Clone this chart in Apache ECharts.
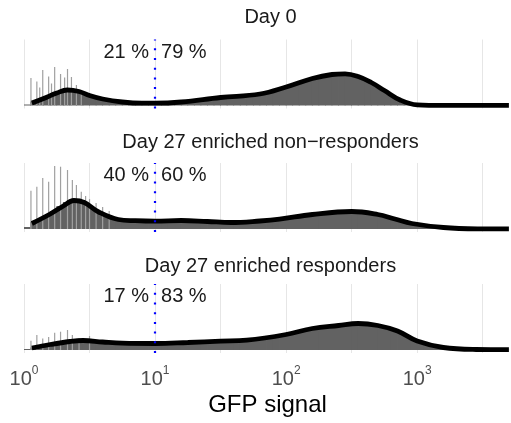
<!DOCTYPE html>
<html><head><meta charset="utf-8">
<script src="https://cdn.jsdelivr.net/npm/echarts@6/dist/echarts.min.js"></script>
<style>html,body{margin:0;padding:0;background:#fff}#c{width:511px;height:423px}</style>
</head><body><div id="c"></div>
<script>
// ---------------- data ----------------
const panelTitles = ['Day 0', 'Day 27 enriched non\u2212responders', 'Day 27 enriched responders'];
const pctBelow = ['21 %', '40 %', '17 %'];
const pctAbove = ['79 %', '60 %', '83 %'];
const threshold = 1;            // log10(10) : GFP signal = 10
const tickExponents = [0, 1, 2, 3];
const xTitle = 'GFP signal';

// density curves: [log10(GFP), density (arb. units)]
const densityDay0 = [[0.06,2.5],[0.15,7],[0.25,12.5],[0.33,15.5],[0.42,14],[0.5,10],[0.6,6.5],[0.75,3.5],[0.9,2.3],[1.0,2.3],[1.2,3.5],[1.5,8],[1.8,11.5],[2.0,18.5],[2.2,27],[2.35,31],[2.45,31.7],[2.55,29],[2.65,23],[2.75,15],[2.87,5.5],[3.0,0.6],[3.2,0.1],[3.7,0.1]];
const densityNonResp = [[0.06,5.5],[0.2,15],[0.3,23],[0.38,28.5],[0.46,26.5],[0.57,17],[0.72,9.5],[0.85,8.3],[1.0,7.8],[1.2,8.5],[1.4,7.5],[1.58,6.5],[1.8,8],[1.95,9.8],[2.2,14.5],[2.5,17.5],[2.7,14.5],[2.83,10],[2.96,5.5],[3.2,1.5],[3.46,0.2],[3.7,0.1]];
const densityResp = [[0.06,2],[0.2,5.5],[0.35,8.5],[0.45,9.5],[0.6,8],[0.75,6.8],[1.0,6.5],[1.25,7.5],[1.5,8.8],[1.7,9.8],[2.0,15.5],[2.2,21.5],[2.4,24.5],[2.55,26.5],[2.7,24.5],[2.85,19],[3.0,9],[3.2,2.5],[3.45,0.5],[3.7,0.3]];

// histogram counts (arb. units), bins of 0.05 log10 units starting at log10 = 0
const histStart = 0, histBin = 0.05;
const histDay0 = [1,4,6,9,11,14,15,15,13.5,11,9,7,5.5,4.5,3.5,3,2.5,2.3,2.2,2.2,2.3,2.6,3,3.4,4,4.6,5.3,6,6.8,7.5,8,8.8,9.5,10,10.5,11,12,13.5,15.5,17.5,19.5,21.5,23.5,26,27.5,29,30.5,31.3,31.7,31.5,30,27.5,24.5,21,16.5,12.5,8.5,5,2.5,1,0.4,0.2,0,0,0,0,0,0,0,0,0,0,0,0];
const histNonResp = [2,7,10,14,18,23,27,30,29,25,21,17,14,11.5,10,9,8.5,8.3,8,8,8,8.3,8.6,8.8,8.5,8.2,7.8,7.5,7.2,7,6.8,6.7,6.8,7.2,7.6,8,8.6,9.2,9.8,10.5,11.2,12,13,14,15,15.8,16.5,17,17.5,17.8,17.5,17,16,15,13.5,12,10.2,8.5,6.8,5,3.8,2.8,2,1.5,1.1,0.8,0.5,0.3,0.2,0,0,0,0,0];
const histResp = [1,2.5,4,5,6.5,7.5,8.5,9.5,9.5,9.3,8.8,8.2,7.8,7.3,7,6.8,6.6,6.5,6.5,6.5,6.5,6.7,6.9,7.1,7.4,7.7,8,8.3,8.6,8.8,9,9.3,9.5,9.8,10.3,11.2,12.2,13.3,14.3,15.3,16.3,17.8,19.3,20.8,22,23,23.8,24.3,24.8,25.5,26.2,26.5,26,25.2,24,22.3,20,17.5,14.5,11,7.8,5.5,3.8,2.8,2,1.4,1,0.7,0.5,0.3,0.2,0.2,0.2,0.2];

// tall single-value spikes at low signal: [log10(GFP), count]
const spikesDay0 = [[0.053,27.5],[0.098,24],[0.12,18],[0.143,35.5],[0.188,29],[0.21,22],[0.234,38.5],[0.279,31.5],[0.31,28],[0.332,36.5],[0.362,28.5],[0.40,20.5],[0.437,15.5]];
const spikesNonResp = [[0.053,38.3],[0.098,42.3],[0.143,51],[0.188,47.3],[0.234,63],[0.279,62.3],[0.332,59],[0.369,49],[0.40,44],[0.437,37.3],[0.47,33],[0.5,30],[0.55,26],[0.6,22],[0.65,18]];
const spikesResp = [[0.053,9.3],[0.098,15],[0.143,11.5],[0.188,13],[0.234,17.3],[0.279,18.3],[0.332,20],[0.369,15],[0.42,12],[0.5,14]];

const densities = [densityDay0, densityNonResp, densityResp];
const hists = [histDay0, histNonResp, histResp];
const spikes = [spikesDay0, spikesNonResp, spikesResp];

// ---------------- layout / style ----------------
const FONT = '"Liberation Sans", Arial, Helvetica, sans-serif';
const gridTops = [39.5, 163, 284];
const GRID_H = 69;
const GRID_LEFT = 24, GRID_W = 493;
const X_MAX = 3.716;
const Y_MIN = -3, Y_MAX = 66;
const titleCenters = [18, 143, 267];
const TEXT = '#1a1a1a';

const chart = echarts.init(document.getElementById('c'), null, {renderer: 'canvas'});

function histItem(params, api) {
  const p0 = api.coord([api.value(0), 0]);
  const p1 = api.coord([api.value(1), api.value(2)]);
  return {type: 'rect', shape: {x: p0[0] - 0.4, y: p1[1], width: p1[0] - p0[0] + 0.8, height: p0[1] - p1[1]},
          style: {fill: '#626262'}};
}
function spikeItem(params, api) {
  const p0 = api.coord([api.value(0), 0]);
  const p1 = api.coord([api.value(0), api.value(1)]);
  return {type: 'rect', shape: {x: p0[0] - 0.6, y: p1[1], width: 1.2, height: p0[1] - p1[1]},
          style: {fill: '#a0a0a0'}};
}

const grids = [], xAxes = [], yAxes = [], series = [], titles = [];
for (let i = 0; i < 3; i++) {
  grids.push({left: GRID_LEFT, top: gridTops[i], width: GRID_W, height: GRID_H});
  const last = i === 2;
  xAxes.push({
    type: 'value', gridIndex: i, min: 0, max: X_MAX, interval: 0.5,
    axisLine: {show: false}, axisTick: {show: false},
    splitLine: {show: true, lineStyle: {color: '#e6e6e6', width: 1}},
    axisLabel: {
      show: last, margin: 12, hideOverlap: false, showMaxLabel: false,
      formatter: function (v) {
        const r = Math.round(v);
        if (Math.abs(v - r) > 1e-6 || tickExponents.indexOf(r) < 0) return '';
        return '{b|10}{s|' + r + '}';
      },
      rich: {
        b: {fontSize: 20, fontFamily: FONT, color: '#4d4d4d', verticalAlign: 'bottom', lineHeight: 24},
        s: {fontSize: 12, fontFamily: FONT, color: '#4d4d4d', verticalAlign: 'top', lineHeight: 24}
      }
    },
    name: last ? xTitle : '', nameLocation: 'middle', nameGap: 40,
    nameTextStyle: {fontSize: 24, fontFamily: FONT, color: '#000'}
  });
  yAxes.push({type: 'value', gridIndex: i, min: Y_MIN, max: Y_MAX, show: false, splitLine: {show: false}});

  series.push({
    type: 'custom', xAxisIndex: i, yAxisIndex: i, clip: true, z: 2, silent: true,
    renderItem: histItem, encode: {x: [0, 1], y: 2},
    data: hists[i].map((h, k) => [histStart + k * histBin, histStart + (k + 1) * histBin, h])
  });
  series.push({
    type: 'custom', xAxisIndex: i, yAxisIndex: i, clip: true, z: 2, silent: true,
    renderItem: spikeItem, encode: {x: 0, y: 1},
    data: spikes[i]
  });
  series.push({
    type: 'line', xAxisIndex: i, yAxisIndex: i, z: 4, silent: true,
    data: densities[i], smooth: 0.4, symbol: 'none',
    lineStyle: {color: '#000', width: 4.8},
    markLine: {
      silent: true, symbol: 'none', label: {show: false},
      lineStyle: {color: '#0000ff', type: [2, 7.7], width: 2.2, opacity: 1},
      data: [{xAxis: threshold}]
    }
  });
  const lbl = {show: true, fontSize: 20, fontFamily: FONT, color: TEXT, opacity: 1};
  series.push({
    type: 'scatter', xAxisIndex: i, yAxisIndex: i, z: 5, silent: true, symbolSize: 0,
    itemStyle: {opacity: 1},
    data: [
      {value: [threshold, 53.5], label: Object.assign({position: 'left', distance: 6, formatter: pctBelow[i]}, lbl)},
      {value: [threshold, 53.5], label: Object.assign({position: 'right', distance: 6, formatter: pctAbove[i]}, lbl)}
    ],
    emphasis: {disabled: true}
  });
  titles.push({
    text: panelTitles[i], left: GRID_LEFT + GRID_W / 2, top: titleCenters[i] - 11, textAlign: 'center', padding: 0,
    textStyle: {fontSize: 20, fontWeight: 'normal', fontFamily: FONT, color: TEXT}
  });
}

chart.setOption({
  animation: false,
  backgroundColor: '#ffffff',
  title: titles,
  grid: grids, xAxis: xAxes, yAxis: yAxes, series: series
});
</script></body></html>
